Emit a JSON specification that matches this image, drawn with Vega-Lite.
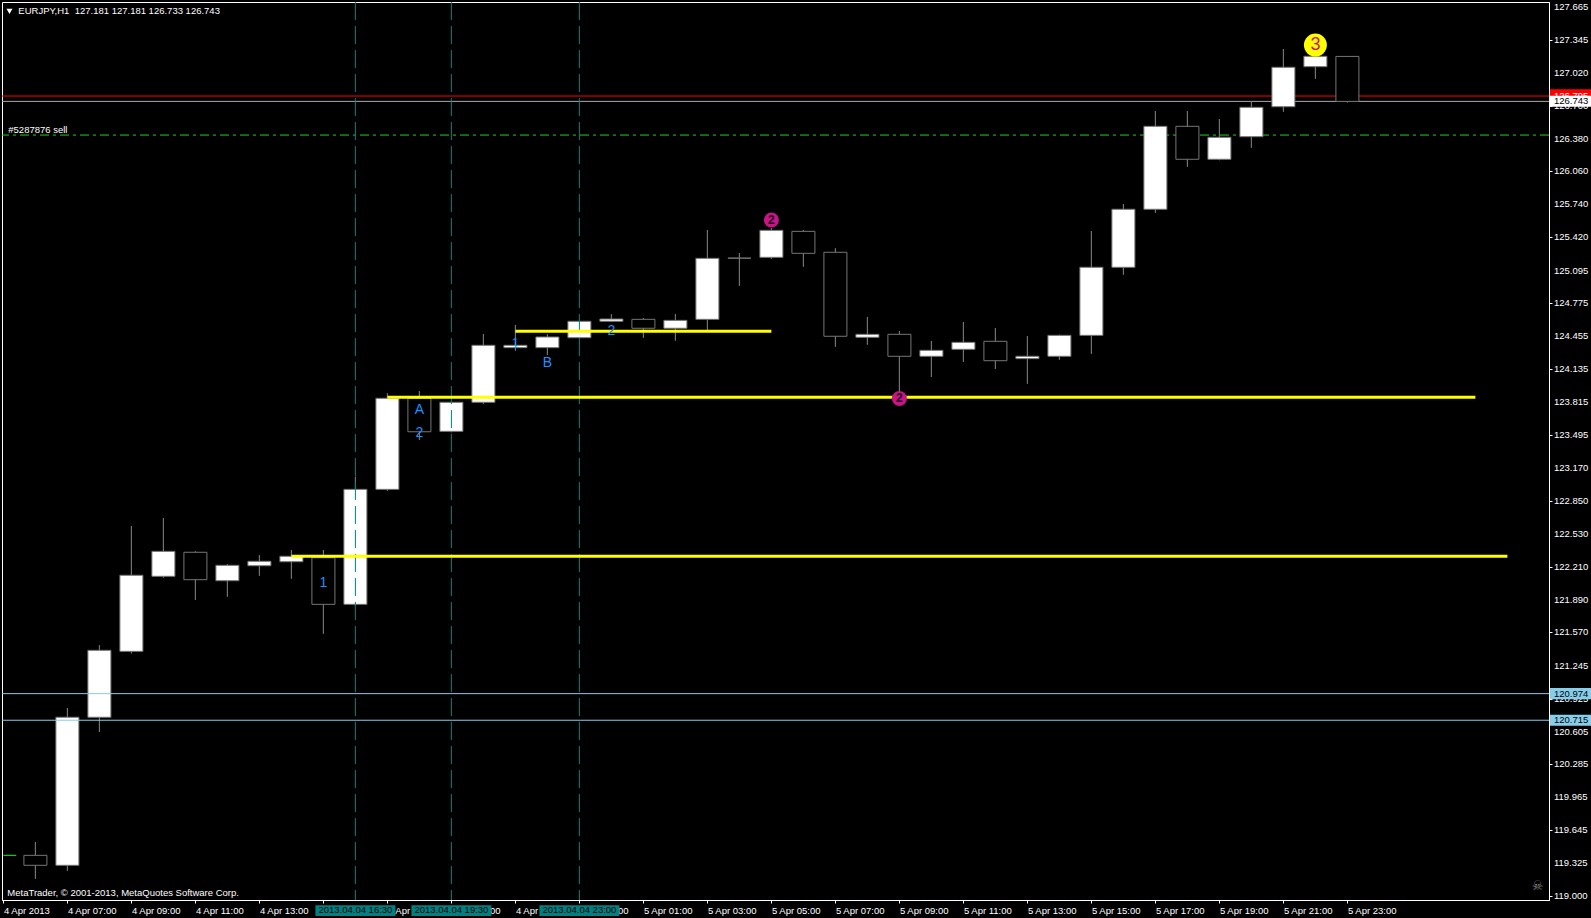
{
"$schema": "https://vega.github.io/schema/vega-lite/v6.json",
"width": 1547, "height": 898,
"autosize": {"type": "none"},
"padding": {"left": 2, "top": 2, "right": 42, "bottom": 18},
"background": "#000000",
"config": {"view": {"stroke": "#ffffff", "strokeWidth": 1, "fill": "#000000"}, "font": "Liberation Sans", "axis": {"grid": false, "labelOverlap": false}, "axisY": {"labelOverlap": false}, "axisQuantitative": {"labelOverlap": false}},
"datasets": {
"candles": [
{"t":"2013-04-04T06:00:00Z","o":119.399,"h":119.529,"l":119.171,"c":119.302},
{"t":"2013-04-04T07:00:00Z","o":119.302,"h":120.834,"l":119.249,"c":120.744},
{"t":"2013-04-04T08:00:00Z","o":120.744,"h":121.445,"l":120.600,"c":121.396},
{"t":"2013-04-04T09:00:00Z","o":121.386,"h":122.607,"l":121.367,"c":122.127},
{"t":"2013-04-04T10:00:00Z","o":122.117,"h":122.685,"l":122.103,"c":122.360},
{"t":"2013-04-04T11:00:00Z","o":122.351,"h":122.360,"l":121.886,"c":122.084},
{"t":"2013-04-04T12:00:00Z","o":122.074,"h":122.237,"l":121.918,"c":122.224},
{"t":"2013-04-04T13:00:00Z","o":122.220,"h":122.324,"l":122.123,"c":122.263},
{"t":"2013-04-04T14:00:00Z","o":122.259,"h":122.373,"l":122.094,"c":122.312},
{"t":"2013-04-04T15:00:00Z","o":122.298,"h":122.373,"l":121.558,"c":121.844},
{"t":"2013-04-04T16:00:00Z","o":121.844,"h":123.087,"l":121.830,"c":122.964},
{"t":"2013-04-04T17:00:00Z","o":122.964,"h":123.899,"l":122.950,"c":123.851},
{"t":"2013-04-04T18:00:00Z","o":123.851,"h":123.922,"l":123.444,"c":123.525},
{"t":"2013-04-04T19:00:00Z","o":123.529,"h":123.815,"l":123.520,"c":123.812},
{"t":"2013-04-04T20:00:00Z","o":123.812,"h":124.477,"l":123.795,"c":124.367},
{"t":"2013-04-04T21:00:00Z","o":124.344,"h":124.565,"l":124.314,"c":124.367},
{"t":"2013-04-04T22:00:00Z","o":124.344,"h":124.474,"l":124.272,"c":124.448},
{"t":"2013-04-04T23:00:00Z","o":124.441,"h":124.605,"l":124.435,"c":124.601},
{"t":"2013-04-05T00:00:00Z","o":124.601,"h":124.669,"l":124.598,"c":124.623},
{"t":"2013-04-05T01:00:00Z","o":124.620,"h":124.633,"l":124.441,"c":124.533},
{"t":"2013-04-05T02:00:00Z","o":124.533,"h":124.672,"l":124.412,"c":124.610},
{"t":"2013-04-05T03:00:00Z","o":124.620,"h":125.490,"l":124.516,"c":125.214},
{"t":"2013-04-05T04:00:00Z","o":125.216,"h":125.266,"l":124.947,"c":125.216},
{"t":"2013-04-05T05:00:00Z","o":125.224,"h":125.509,"l":125.210,"c":125.487},
{"t":"2013-04-05T06:00:00Z","o":125.477,"h":125.490,"l":125.133,"c":125.263},
{"t":"2013-04-05T07:00:00Z","o":125.273,"h":125.312,"l":124.353,"c":124.455},
{"t":"2013-04-05T08:00:00Z","o":124.445,"h":124.643,"l":124.373,"c":124.474},
{"t":"2013-04-05T09:00:00Z","o":124.474,"h":124.506,"l":123.880,"c":124.260},
{"t":"2013-04-05T10:00:00Z","o":124.260,"h":124.409,"l":124.058,"c":124.318},
{"t":"2013-04-05T11:00:00Z","o":124.328,"h":124.594,"l":124.204,"c":124.396},
{"t":"2013-04-05T12:00:00Z","o":124.406,"h":124.535,"l":124.136,"c":124.217},
{"t":"2013-04-05T13:00:00Z","o":124.237,"h":124.457,"l":123.993,"c":124.260},
{"t":"2013-04-05T14:00:00Z","o":124.260,"h":124.470,"l":124.227,"c":124.464},
{"t":"2013-04-05T15:00:00Z","o":124.464,"h":125.480,"l":124.285,"c":125.127},
{"t":"2013-04-05T16:00:00Z","o":125.127,"h":125.743,"l":125.055,"c":125.692},
{"t":"2013-04-05T17:00:00Z","o":125.692,"h":126.649,"l":125.658,"c":126.500},
{"t":"2013-04-05T18:00:00Z","o":126.500,"h":126.649,"l":126.107,"c":126.179},
{"t":"2013-04-05T19:00:00Z","o":126.179,"h":126.571,"l":126.170,"c":126.393},
{"t":"2013-04-05T20:00:00Z","o":126.399,"h":126.744,"l":126.292,"c":126.685},
{"t":"2013-04-05T21:00:00Z","o":126.691,"h":127.253,"l":126.642,"c":127.075},
{"t":"2013-04-05T22:00:00Z","o":127.081,"h":127.185,"l":126.964,"c":127.182},
{"t":"2013-04-05T23:00:00Z","o":127.181,"h":127.181,"l":126.733,"c":126.743}
],
"vlines": [
{"t":"2013-04-04T16:00:00Z","b0":"2013-04-04T14:45:00Z","b1":"2013-04-04T17:15:00Z","label":"2013.04.04 16:30","yb":118.807,"yt":118.912,"ty":118.834},
{"t":"2013-04-04T19:00:00Z","b0":"2013-04-04T17:45:00Z","b1":"2013-04-04T20:15:00Z","label":"2013.04.04 19:30","yb":118.807,"yt":118.912,"ty":118.834},
{"t":"2013-04-04T23:00:00Z","b0":"2013-04-04T21:45:00Z","b1":"2013-04-05T00:15:00Z","label":"2013.04.04 23:00","yb":118.807,"yt":118.912,"ty":118.834}
],
"yellow": [
{"t0":"2013-04-04T14:00:00Z","t1":"2013-04-06T04:00:00Z","p":122.312},
{"t0":"2013-04-04T17:00:00Z","t1":"2013-04-06T03:00:00Z","p":123.860},
{"t0":"2013-04-04T21:00:00Z","t1":"2013-04-05T05:00:00Z","p":124.503}
],
"bluetext": [
{"t":"2013-04-04T15:00:00Z","p":122.049,"label":"1"},
{"t":"2013-04-04T18:00:00Z","p":123.737,"label":"A"},
{"t":"2013-04-04T18:00:00Z","p":123.516,"label":"2"},
{"t":"2013-04-04T21:00:00Z","p":124.380,"label":"1"},
{"t":"2013-04-04T22:00:00Z","p":124.192,"label":"B"},
{"t":"2013-04-05T00:00:00Z","p":124.506,"label":"2"}
],
"magenta": [
{"t":"2013-04-05T05:00:00Z","p":125.587,"label":"2"},
{"t":"2013-04-05T09:00:00Z","p":123.849,"label":"2"}
],
"yellowmark": [
{"t":"2013-04-05T22:00:00Z","p":127.292,"label":"3"}
],
"whitetext": [
{"t":"2013-04-04T05:28:00Z","p":127.594,"label":"EURJPY,H1\u00a0 127.181 127.181 126.733 126.743"},
{"t":"2013-04-04T05:09:10Z","p":126.438,"label":"#5287876 sell"},
{"t":"2013-04-04T05:07:20Z","p":119.003,"label":"MetaTrader, © 2001-2013, MetaQuotes Software Corp."}
],
"ylabels": [
{"p":127.665},{"p":127.345},{"p":127.020},{"p":126.700},{"p":126.380},{"p":126.060},{"p":125.740},{"p":125.420},{"p":125.095},{"p":124.775},{"p":124.455},{"p":124.135},{"p":123.815},{"p":123.495},{"p":123.170},{"p":122.850},{"p":122.530},{"p":122.210},{"p":121.890},{"p":121.570},{"p":121.245},{"p":120.925},{"p":120.605},{"p":120.285},{"p":119.965},{"p":119.645},{"p":119.325},{"p":119.000}
],
"pricebox": [
{"t0":"2013-04-06T05:19:54Z","t1":"2013-04-06T06:40:00Z","tt":"2013-04-06T05:27:20Z","p":126.743,"lo":126.690,"hi":126.797,"label":"126.743","kind":"bid"},
{"t0":"2013-04-06T05:19:54Z","t1":"2013-04-06T06:40:00Z","tt":"2013-04-06T05:27:20Z","p":120.974,"lo":120.920,"hi":121.028,"label":"120.974","kind":"hline"},
{"t0":"2013-04-06T05:19:54Z","t1":"2013-04-06T06:40:00Z","tt":"2013-04-06T05:27:20Z","p":120.715,"lo":120.661,"hi":120.769,"label":"120.715","kind":"hline"}
]
},
"layer": [
{"data": {"name": "candles"}, "mark": {"type": "rule", "color": "#757575", "strokeWidth": 1},
 "encoding": {
  "x": {"field": "t", "type": "temporal", "title": null, "scale": {"type": "utc", "padding": 0, "domain": [{"year": 2013, "month": 4, "date": 4, "hours": 4, "minutes": 57, "seconds": 22, "utc": true}, {"year": 2013, "month": 4, "date": 6, "hours": 5, "minutes": 18, "utc": true}]},
   "axis": {"orient": "bottom", "title": null,
    "values": [{"year":2013,"month":4,"date":4,"hours":5,"utc":true},{"year":2013,"month":4,"date":4,"hours":7,"utc":true},{"year":2013,"month":4,"date":4,"hours":9,"utc":true},{"year":2013,"month":4,"date":4,"hours":11,"utc":true},{"year":2013,"month":4,"date":4,"hours":13,"utc":true},{"year":2013,"month":4,"date":4,"hours":15,"utc":true},{"year":2013,"month":4,"date":4,"hours":17,"utc":true},{"year":2013,"month":4,"date":4,"hours":19,"utc":true},{"year":2013,"month":4,"date":4,"hours":21,"utc":true},{"year":2013,"month":4,"date":4,"hours":23,"utc":true},{"year":2013,"month":4,"date":5,"hours":1,"utc":true},{"year":2013,"month":4,"date":5,"hours":3,"utc":true},{"year":2013,"month":4,"date":5,"hours":5,"utc":true},{"year":2013,"month":4,"date":5,"hours":7,"utc":true},{"year":2013,"month":4,"date":5,"hours":9,"utc":true},{"year":2013,"month":4,"date":5,"hours":11,"utc":true},{"year":2013,"month":4,"date":5,"hours":13,"utc":true},{"year":2013,"month":4,"date":5,"hours":15,"utc":true},{"year":2013,"month":4,"date":5,"hours":17,"utc":true},{"year":2013,"month":4,"date":5,"hours":19,"utc":true},{"year":2013,"month":4,"date":5,"hours":21,"utc":true},{"year":2013,"month":4,"date":5,"hours":23,"utc":true}],
    "labelExpr": "utcdate(datum.value) == 4 && utchours(datum.value) == 5 ? '4 Apr 2013' : utcFormat(datum.value, '%-d %b %H:%M')",
    "labelAlign": "left", "labelBaseline": "alphabetic", "labelPadding": 10, "labelDx": -1,
    "tickSize": 3, "tickColor": "#ffffff", "domainColor": "#ffffff", "labelColor": "#ffffff",
    "labelFont": "Liberation Sans", "labelFontSize": 9.5, "labelOverlap": false, "labelFlush": false, "labelBound": false, "grid": false}},
  "y": {"field": "l", "type": "quantitative", "title": null, "scale": {"domain": [118.964, 127.711], "zero": false, "nice": false, "padding": 0},
   "axis": {"orient": "right", "title": null,
    "values": [127.665,127.345,127.020,126.700,126.380,126.060,125.740,125.420,125.095,124.775,124.455,124.135,123.815,123.495,123.170,122.850,122.530,122.210,121.890,121.570,121.245,120.925,120.605,120.285,119.965,119.645,119.325,119.000],
    "labels": false,
    "tickSize": 3, "tickColor": "#ffffff", "domainColor": "#ffffff", "grid": false}},
  "y2": {"field": "h"}}},
{"data": {"name": "ylabels"}, "mark": {"type": "text", "color": "#ffffff", "font": "Liberation Sans", "fontSize": 9.5, "align": "left", "baseline": "middle", "clip": false},
 "encoding": {"x": {"datum": {"year": 2013, "month": 4, "date": 6, "hours": 5, "minutes": 27, "seconds": 20, "utc": true}, "type": "temporal"}, "y": {"field": "p", "type": "quantitative", "title": null}, "text": {"field": "p", "format": ".3f"}}},
{"data": {"values": [{"p": 126.795}]}, "mark": {"type": "rule", "color": "#ff0000", "strokeWidth": 1},
 "encoding": {"y": {"field": "p", "type": "quantitative", "title": null}}},
{"data": {"values": [{"p": 126.743}]}, "mark": {"type": "rule", "color": "#a9a9a9", "strokeWidth": 1},
 "encoding": {"y": {"field": "p", "type": "quantitative", "title": null}}},
{"data": {"values": [{"p": 126.415}]}, "mark": {"type": "rule", "color": "#20d020", "strokeWidth": 1, "strokeDash": [9, 4, 3, 4]},
 "encoding": {"y": {"field": "p", "type": "quantitative", "title": null}}},
{"data": {"name": "candles"}, "mark": {"type": "rule", "color": "#757575", "strokeWidth": 1},
 "encoding": {"x": {"field": "t", "type": "temporal", "title": null}, "y": {"field": "l", "type": "quantitative", "title": null}, "y2": {"field": "h"}}},
{"data": {"name": "candles"}, "mark": {"type": "bar", "size": 23, "stroke": "#757575", "strokeWidth": 1},
 "encoding": {
  "x": {"field": "t", "type": "temporal", "title": null},
  "y": {"field": "o", "type": "quantitative", "title": null},
  "y2": {"field": "c"},
  "fill": {"condition": {"test": "datum.c >= datum.o", "value": "#ffffff"}, "value": "#000000"}}},
{"data": {"values": [{"p": 120.974}, {"p": 120.715}]}, "mark": {"type": "rule", "color": "#87ceeb", "strokeWidth": 1},
 "encoding": {"y": {"field": "p", "type": "quantitative", "title": null}}},
{"data": {"name": "vlines"}, "mark": {"type": "rule", "color": "#008080", "strokeWidth": 1, "strokeDash": [18, 6]},
 "encoding": {"x": {"field": "t", "type": "temporal", "title": null}}},
{"data": {"name": "yellow"}, "mark": {"type": "rule", "color": "#ffff00", "strokeWidth": 3},
 "encoding": {"x": {"field": "t0", "type": "temporal", "title": null}, "x2": {"field": "t1"}, "y": {"field": "p", "type": "quantitative", "title": null}}},
{"data": {"values": [{"t0": "2013-04-04T05:00:00Z", "t1": "2013-04-04T05:24:00Z", "p": 119.399}]}, "mark": {"type": "rule", "color": "#00ff00", "strokeWidth": 1},
 "encoding": {"x": {"field": "t0", "type": "temporal", "title": null}, "x2": {"field": "t1"}, "y": {"field": "p", "type": "quantitative", "title": null}}},
{"data": {"name": "bluetext"}, "mark": {"type": "text", "color": "#1e90ff", "font": "Liberation Sans", "fontSize": 14, "align": "center", "baseline": "middle"},
 "encoding": {"x": {"field": "t", "type": "temporal", "title": null}, "y": {"field": "p", "type": "quantitative", "title": null}, "text": {"field": "label"}}},
{"data": {"name": "magenta"}, "mark": {"type": "point", "shape": "circle", "filled": true, "size": 225, "color": "#c71585", "opacity": 1},
 "encoding": {"x": {"field": "t", "type": "temporal", "title": null}, "y": {"field": "p", "type": "quantitative", "title": null}}},
{"data": {"name": "magenta"}, "mark": {"type": "text", "color": "#1a001a", "font": "Liberation Sans", "fontSize": 12, "fontWeight": "bold", "align": "center", "baseline": "middle"},
 "encoding": {"x": {"field": "t", "type": "temporal", "title": null}, "y": {"field": "p", "type": "quantitative", "title": null}, "text": {"field": "label"}}},
{"data": {"name": "yellowmark"}, "mark": {"type": "point", "shape": "circle", "filled": true, "size": 529, "color": "#ffff00", "opacity": 1},
 "encoding": {"x": {"field": "t", "type": "temporal", "title": null}, "y": {"field": "p", "type": "quantitative", "title": null}}},
{"data": {"name": "yellowmark"}, "mark": {"type": "text", "color": "#c71585", "font": "Liberation Sans", "fontSize": 18, "align": "center", "baseline": "middle"},
 "encoding": {"x": {"field": "t", "type": "temporal", "title": null}, "y": {"field": "p", "type": "quantitative", "title": null}, "text": {"field": "label"}}},
{"data": {"name": "whitetext"}, "mark": {"type": "text", "color": "#ffffff", "font": "Liberation Sans", "fontSize": 9.5, "align": "left", "baseline": "alphabetic"},
 "encoding": {"x": {"field": "t", "type": "temporal", "title": null}, "y": {"field": "p", "type": "quantitative", "title": null}, "text": {"field": "label"}}},
{"data": {"values": [{"t": "2013-04-04T05:11:25Z", "p": 127.62}]}, "mark": {"type": "point", "shape": "triangle-down", "filled": true, "size": 36, "color": "#ffffff", "opacity": 1},
 "encoding": {"x": {"field": "t", "type": "temporal", "title": null}, "y": {"field": "p", "type": "quantitative", "title": null}}},
{"data": {"values": [{"t": "2013-04-06T04:56:25Z", "p": 119.10, "label": "☠"}]}, "mark": {"type": "text", "color": "#808080", "font": "DejaVu Sans", "fontSize": 13, "align": "center", "baseline": "middle"},
 "encoding": {"x": {"field": "t", "type": "temporal", "title": null}, "y": {"field": "p", "type": "quantitative", "title": null}, "text": {"field": "label"}}},
{"data": {"name": "vlines"}, "mark": {"type": "rect", "color": "#008080", "clip": false},
 "encoding": {"x": {"field": "b0", "type": "temporal", "title": null}, "x2": {"field": "b1"}, "y": {"field": "yb", "type": "quantitative", "title": null}, "y2": {"field": "yt"}}},
{"data": {"name": "vlines"}, "mark": {"type": "text", "color": "#000000", "font": "Liberation Sans", "fontSize": 9.5, "align": "center", "baseline": "alphabetic", "clip": false},
 "encoding": {"x": {"field": "t", "type": "temporal", "title": null}, "y": {"field": "ty", "type": "quantitative", "title": null}, "text": {"field": "label"}}},
{"data": {"values": [{"t0": "2013-04-06T05:19:54Z", "t1": "2013-04-06T06:40:00Z", "p": 126.795, "lo": 126.730, "hi": 126.860}]}, "mark": {"type": "rect", "color": "#ff0000", "clip": false},
 "encoding": {"x": {"field": "t0", "type": "temporal", "title": null}, "x2": {"field": "t1"}, "y": {"field": "lo", "type": "quantitative", "title": null}, "y2": {"field": "hi"}}},
{"data": {"values": [{"tt": "2013-04-06T05:27:20Z", "p": 126.795, "label": "126.795"}]}, "mark": {"type": "text", "color": "#ffffff", "font": "Liberation Sans", "fontSize": 9.5, "align": "left", "baseline": "middle", "clip": false},
 "encoding": {"x": {"field": "tt", "type": "temporal", "title": null}, "y": {"field": "p", "type": "quantitative", "title": null}, "text": {"field": "label"}}},
{"data": {"name": "pricebox"}, "mark": {"type": "rect", "clip": false},
 "encoding": {"x": {"field": "t0", "type": "temporal", "title": null}, "x2": {"field": "t1"}, "y": {"field": "lo", "type": "quantitative", "title": null}, "y2": {"field": "hi"},
  "fill": {"condition": {"test": "datum.kind == 'bid'", "value": "#ffffff"}, "value": "#87ceeb"}}},
{"data": {"name": "pricebox"}, "mark": {"type": "text", "color": "#000000", "font": "Liberation Sans", "fontSize": 9.5, "align": "left", "baseline": "middle", "clip": false},
 "encoding": {"x": {"field": "tt", "type": "temporal", "title": null}, "y": {"field": "p", "type": "quantitative", "title": null}, "text": {"field": "label"}}}
]
}
